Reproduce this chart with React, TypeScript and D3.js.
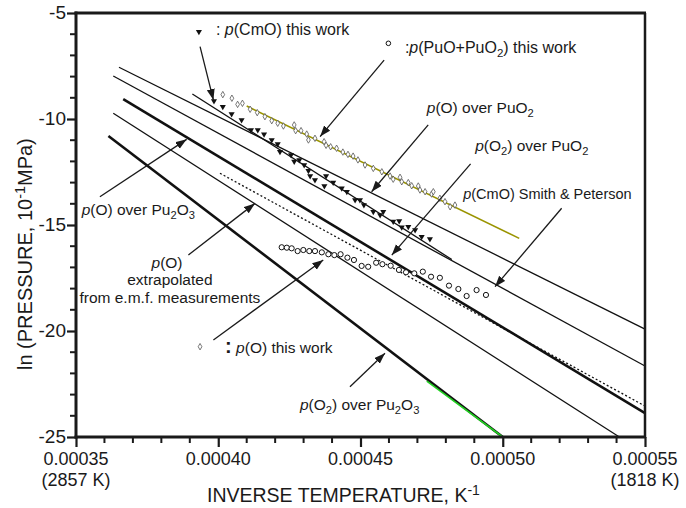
import { useEffect, useRef } from "react";
import * as d3 from "d3";

const W = 686;
const H = 508;

// axis ticks
const xMajor = [0.00035, 0.0004, 0.00045, 0.0005, 0.00055];
const xMinor = d3.range(35, 56).map(i => i * 1e-5);
const yMajor = [-5, -10, -15, -20, -25];
const yMinor = d3.range(-25, -4);
const tempLabels = ["(2857 K)", "", "", "", "(1818 K)"];

// p(CmO) this work (filled triangles)
const cmoX = [0.0003985, 0.0004016, 0.0004047, 0.0004082, 0.0004115, 0.0004139, 0.0004161, 0.0004188, 0.0004209, 0.0004217, 0.0004256, 0.0004267, 0.0004285, 0.0004302, 0.0004317, 0.0004323, 0.000434, 0.0004379, 0.0004373, 0.0004404, 0.0004434, 0.0004452, 0.0004481, 0.0004498, 0.0004512, 0.0004545, 0.000458, 0.0004569, 0.0004615, 0.0004636, 0.0004645, 0.0004668, 0.0004692, 0.0004715, 0.0004744];
const cmoY = [-9.15, -9.42, -9.76, -10.05, -10.52, -10.52, -10.72, -10.99, -11.18, -11.54, -11.7, -12.01, -11.93, -12.17, -12.44, -12.69, -12.88, -12.69, -13.16, -13.0, -13.27, -13.43, -13.82, -13.82, -14.06, -14.37, -14.37, -14.53, -14.84, -14.81, -15.11, -15.08, -15.24, -15.55, -15.66];

// p(PuO+PuO2) this work (open diamonds)
const puoX = [0.0004016, 0.0004048, 0.0004068, 0.0004085, 0.0004112, 0.0004137, 0.0004164, 0.0004188, 0.0004209, 0.0004229, 0.0004267, 0.0004272, 0.0004291, 0.0004311, 0.0004317, 0.000434, 0.0004372, 0.0004379, 0.0004395, 0.0004416, 0.0004438, 0.0004456, 0.0004474, 0.0004491, 0.0004516, 0.0004545, 0.0004575, 0.0004604, 0.0004615, 0.0004639, 0.0004645, 0.0004668, 0.000468, 0.0004703, 0.0004709, 0.0004727, 0.000475, 0.0004756, 0.0004779, 0.0004797, 0.0004815, 0.0004832];
const puoY = [-8.85, -9.02, -9.31, -9.26, -9.54, -9.7, -9.89, -10.08, -10.2, -10.33, -10.28, -10.55, -10.55, -10.71, -10.99, -10.91, -11.07, -11.24, -11.31, -11.38, -11.56, -11.67, -11.75, -11.93, -12.17, -12.33, -12.49, -12.69, -12.84, -12.75, -12.96, -13.0, -13.15, -13.16, -13.35, -13.43, -13.54, -13.43, -13.74, -13.9, -14.14, -14.06];

// p(O) this work (open circles)
const poX = [0.0004223, 0.0004241, 0.0004258, 0.0004279, 0.0004299, 0.000432, 0.000434, 0.0004364, 0.0004387, 0.0004408, 0.000443, 0.0004454, 0.0004477, 0.0004504, 0.0004527, 0.0004555, 0.0004577, 0.0004606, 0.0004635, 0.000466, 0.0004689, 0.0004719, 0.0004748, 0.0004779, 0.0004811, 0.0004844, 0.0004873, 0.0004908, 0.0004941];
const poY = [-16.05, -16.07, -16.1, -16.23, -16.18, -16.23, -16.23, -16.29, -16.38, -16.42, -16.38, -16.54, -16.65, -16.93, -16.97, -16.78, -16.85, -16.92, -17.12, -17.23, -17.28, -17.2, -17.44, -17.49, -17.86, -18.02, -18.35, -18.07, -18.3];

// straight lines (end points)
const lineNames = ["pO_PuO2", "pCmO_SP", "pO2_PuO2", "pO_Pu2O3", "pO2_Pu2O3", "pO_emf", "pCmO_fit", "pPuO_fit", "pO2_Pu2O3_green"];
const lineX1 = [0.0003651, 0.0003631, 0.0003666, 0.0003631, 0.0003614, 0.0004006, 0.0003909, 0.00041, 0.0004733];
const lineY1 = [-7.56, -7.97, -9.06, -9.73, -10.8, -12.56, -8.82, -9.39, -22.36];
const lineX2 = [0.00055, 0.00055, 0.00055, 0.000541, 0.0005, 0.00055, 0.0004821, 0.0005058, 0.0005];
const lineY2 = [-19.91, -21.65, -23.87, -25, -25, -23.54, -16.63, -15.63, -25];

const lineStyle: Record<string, { color: string; width: number; dash?: string }> = {
  pO_PuO2: { color: "#111", width: 1.3 },
  pCmO_SP: { color: "#111", width: 1.3 },
  pO2_PuO2: { color: "#111", width: 2.6 },
  pO_Pu2O3: { color: "#111", width: 1.3 },
  pO2_Pu2O3: { color: "#111", width: 2.6 },
  pO_emf: { color: "#111", width: 1.3, dash: "2,2.2" },
  pCmO_fit: { color: "#111", width: 1.3 },
  pPuO_fit: { color: "#9a9400", width: 1.6 },
  pO2_Pu2O3_green: { color: "#22d022", width: 1.6 },
};

// arrows (from -> tip)
const arrowX1 = [0.0003936, 0.0004583, 0.0004738, 0.0004887, 0.0005207, 0.0003584, 0.0003895, 0.0004463, 0.0003983];
const arrowY1 = [-6.59, -7.22, -10.28, -12.12, -14.21, -13.67, -16.42, -22.63, -20.42];
const arrowX2 = [0.0003983, 0.0004358, 0.0004539, 0.000461, 0.0004973, 0.0003889, 0.0004129, 0.0004586, 0.0004369];
const arrowY2 = [-9.1, -10.83, -13.43, -16.42, -17.91, -10.96, -13.98, -21.05, -16.65];

type Seg = { t: string; i?: boolean; sub?: boolean; sup?: boolean; big?: boolean };

// annotation texts
const labelSegs: Seg[][] = [
  [{ t: ": " }, { t: "p", i: true }, { t: "(CmO) this work" }],
  [{ t: ":" }, { t: "p", i: true }, { t: "(PuO+PuO" }, { t: "2", sub: true }, { t: ") this work" }],
  [{ t: "p", i: true }, { t: "(O) over PuO" }, { t: "2", sub: true }],
  [{ t: "p", i: true }, { t: "(O" }, { t: "2", sub: true }, { t: ") over PuO" }, { t: "2", sub: true }],
  [{ t: "p", i: true }, { t: "(CmO) Smith & Peterson" }],
  [{ t: "p", i: true }, { t: "(O) over Pu" }, { t: "2", sub: true }, { t: "O" }, { t: "3", sub: true }],
  [{ t: "p", i: true }, { t: "(O)" }],
  [{ t: "extrapolated" }],
  [{ t: "from e.m.f. measurements" }],
  [{ t: ":", big: true }, { t: " " }, { t: "p", i: true }, { t: "(O) this work" }],
  [{ t: "p", i: true }, { t: "(O" }, { t: "2", sub: true }, { t: ") over Pu" }, { t: "2", sub: true }, { t: "O" }, { t: "3", sub: true }],
];
const labelX = [0.0003992, 0.0004656, 0.0004733, 0.0004903, 0.0004861, 0.000352, 0.000382, 0.000383, 0.000383, 0.0004024, 0.0004287];
const labelY = [-6.05, -6.89, -9.7, -11.51, -13.77, -14.53, -17.04, -17.83, -18.68, -21.05, -23.73];
const labelSize = [16, 16, 15.5, 15.5, 14.5, 15.5, 15.5, 15.5, 15.5, 15.5, 15.5];
const labelAnchor = ["start", "start", "start", "start", "start", "start", "middle", "middle", "middle", "start", "start"];

// legend symbols drawn next to the annotations
const legendX = [0.0003932, 0.0004598, 0.0003936];
const legendY = [-5.88, -6.43, -20.74];
const legendKind = ["tri", "circle", "diamond"];

const FONT = "'Liberation Sans', Arial, Helvetica, sans-serif";
const INK = "#1a1a1a";

function rich(sel: any, segs: Seg[], fs: number) {
  let shift = 0;
  segs.forEach(s => {
    const target = s.sub ? 4 : s.sup ? -7 : 0;
    const ts = sel.append("tspan").attr("dy", target - shift).text(s.t);
    shift = target;
    if (s.sub || s.sup) ts.attr("font-size", fs * 0.72);
    if (s.i) ts.attr("font-style", "italic");
    if (s.big) ts.attr("font-size", fs * 1.3).attr("font-weight", "bold");
  });
}

export default function App() {
  const ref = useRef<SVGSVGElement | null>(null);

  useEffect(() => {
    if (!ref.current) return;
    const svg = d3.select(ref.current);
    svg.selectAll("*").remove();

    const x = d3.scaleLinear().domain([0.00035, 0.00055]).range([76, 645]);
    const y = d3.scaleLinear().domain([-25, -5]).range([437, 13]);

    const defs = svg.append("defs");
    defs.append("marker")
      .attr("id", "ah")
      .attr("markerUnits", "userSpaceOnUse")
      .attr("markerWidth", 12)
      .attr("markerHeight", 10)
      .attr("refX", 11)
      .attr("refY", 4)
      .attr("orient", "auto")
      .append("path")
      .attr("d", "M0,0 L11,4 L0,8 Z")
      .attr("fill", INK);

    // lines
    lineNames.forEach((n, i) => {
      const st = lineStyle[n];
      svg.append("line")
        .attr("x1", x(lineX1[i])).attr("y1", y(lineY1[i]))
        .attr("x2", x(lineX2[i])).attr("y2", y(lineY2[i]))
        .attr("stroke", st.color)
        .attr("stroke-width", st.width)
        .attr("stroke-dasharray", st.dash ?? null);
    });

    // p(PuO+PuO2) diamonds
    svg.append("g").selectAll("path").data(d3.range(puoX.length)).join("path")
      .attr("d", d3.symbol(d3.symbolDiamond, 12)())
      .attr("transform", i => `translate(${x(puoX[i])},${y(puoY[i])})`)
      .attr("fill", "white").attr("stroke", "#555").attr("stroke-width", 0.8);

    // p(CmO) triangles
    svg.append("g").selectAll("path").data(d3.range(cmoX.length)).join("path")
      .attr("d", d3.symbol(d3.symbolTriangle, 16)())
      .attr("transform", i => `translate(${x(cmoX[i])},${y(cmoY[i])}) rotate(180)`)
      .attr("fill", "#111");

    // p(O) circles
    svg.append("g").selectAll("circle").data(d3.range(poX.length)).join("circle")
      .attr("cx", i => x(poX[i])).attr("cy", i => y(poY[i])).attr("r", 2.6)
      .attr("fill", "white").attr("stroke", "#111").attr("stroke-width", 1);

    // arrows
    arrowX1.forEach((_, i) => {
      svg.append("line")
        .attr("x1", x(arrowX1[i])).attr("y1", y(arrowY1[i]))
        .attr("x2", x(arrowX2[i])).attr("y2", y(arrowY2[i]))
        .attr("stroke", INK).attr("stroke-width", 1.3)
        .attr("marker-end", "url(#ah)");
    });

    // legend symbols
    legendKind.forEach((k, i) => {
      const g = svg.append("g").attr("transform", `translate(${x(legendX[i])},${y(legendY[i])})`);
      if (k === "tri") g.append("path").attr("d", d3.symbol(d3.symbolTriangle, 16)()).attr("transform", "rotate(180)").attr("fill", "#111");
      if (k === "circle") g.append("circle").attr("r", 2.3).attr("fill", "white").attr("stroke", "#111").attr("stroke-width", 1);
      if (k === "diamond") g.append("path").attr("d", d3.symbol(d3.symbolDiamond, 12)()).attr("fill", "white").attr("stroke", "#555").attr("stroke-width", 0.8);
    });

    // annotation labels
    labelSegs.forEach((segs, i) => {
      const t = svg.append("text")
        .attr("x", x(labelX[i])).attr("y", y(labelY[i]))
        .attr("font-family", FONT).attr("font-size", labelSize[i])
        .attr("fill", INK).attr("text-anchor", labelAnchor[i]);
      rich(t, segs, labelSize[i]);
    });

    // frame
    const frame = svg.append("g").attr("stroke", INK).attr("fill", "none");
    frame.append("line").attr("x1", 74.5).attr("x2", 646).attr("y1", 13).attr("y2", 13).attr("stroke-width", 3);
    frame.append("line").attr("x1", 645).attr("x2", 645).attr("y1", 13).attr("y2", 438).attr("stroke-width", 2.5);

    // bottom axis
    const xa = svg.append("g").attr("transform", "translate(0,437)");
    xa.call(d3.axisBottom(x).tickValues(xMajor).tickSize(10).tickFormat(() => ""));
    xa.select(".domain").remove();
    xa.selectAll(".tick line").attr("stroke", INK).attr("stroke-width", 2.2);
    xa.selectAll(".tick text").remove();
    xMinor.forEach(v => {
      if (xMajor.some(m => Math.abs(m - v) < 1e-9)) return;
      xa.append("line").attr("x1", x(v)).attr("x2", x(v)).attr("y1", 0).attr("y2", 6)
        .attr("stroke", INK).attr("stroke-width", 2);
    });
    xa.append("line").attr("x1", 74.5).attr("x2", 646).attr("y1", 0).attr("y2", 0)
      .attr("stroke", INK).attr("stroke-width", 3);
    xMajor.forEach((v, i) => {
      xa.append("text").attr("x", x(v)).attr("y", 28)
        .attr("text-anchor", "middle").attr("font-family", FONT).attr("font-size", 18).attr("fill", INK)
        .text(d3.format(".5f")(v));
      if (tempLabels[i]) {
        xa.append("text").attr("x", x(v)).attr("y", 49)
          .attr("text-anchor", "middle").attr("font-family", FONT).attr("font-size", 18).attr("fill", INK)
          .text(tempLabels[i]);
      }
    });

    // left axis
    const ya = svg.append("g").attr("transform", "translate(76,0)");
    ya.call(d3.axisLeft(y).tickValues(yMajor).tickSize(9).tickFormat(() => ""));
    ya.select(".domain").remove();
    ya.selectAll(".tick line").attr("stroke", INK).attr("stroke-width", 2.2);
    ya.selectAll(".tick text").remove();
    yMinor.forEach(v => {
      if (yMajor.includes(v)) return;
      ya.append("line").attr("x1", 0).attr("x2", -6).attr("y1", y(v)).attr("y2", y(v))
        .attr("stroke", INK).attr("stroke-width", 2);
    });
    ya.append("line").attr("x1", 0).attr("x2", 0).attr("y1", 11.5).attr("y2", 438.5)
      .attr("stroke", INK).attr("stroke-width", 3);
    yMajor.forEach(v => {
      ya.append("text").attr("x", -10).attr("y", y(v) + 6)
        .attr("text-anchor", "end").attr("font-family", FONT).attr("font-size", 19).attr("fill", INK)
        .text(d3.format("d")(v).replace("−", "-"));
    });

    // axis titles
    const xt = svg.append("text").attr("x", 207).attr("y", 502)
      .attr("font-family", FONT).attr("font-size", 19.5).attr("fill", INK);
    rich(xt, [{ t: "INVERSE TEMPERATURE, K" }, { t: "-1", sup: true }], 19.5);

    const yt = svg.append("text").attr("transform", "translate(32,370) rotate(-90)")
      .attr("font-family", FONT).attr("font-size", 20).attr("fill", INK);
    rich(yt, [{ t: "ln (PRESSURE, 10" }, { t: "-1", sup: true }, { t: "MPa)" }], 20);
  }, []);

  return (
    <svg
      ref={ref}
      width={W}
      height={H}
      style={{ position: "absolute", left: 0, top: 0, background: "white" }}
      role="img"
      aria-label="ln pressure versus inverse temperature"
    />
  );
}
